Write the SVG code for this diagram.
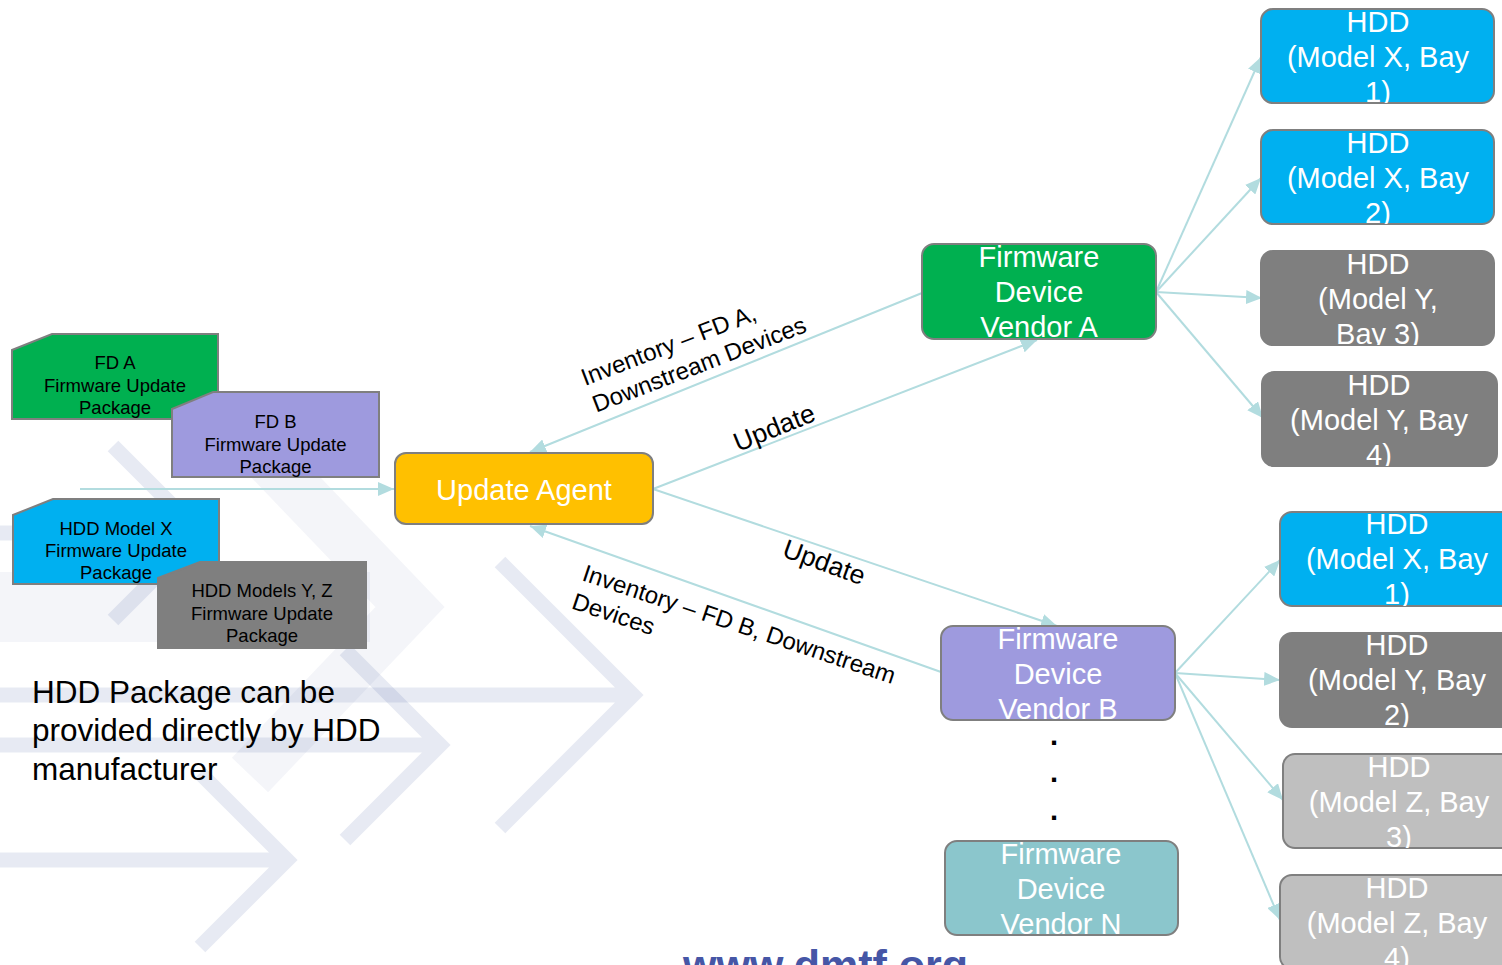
<svg xmlns="http://www.w3.org/2000/svg" width="1502" height="965" viewBox="0 0 1502 965">
<style>
text{font-family:"Liberation Sans",Arial,sans-serif}
.bg{fill:none;stroke:#3c50a0;stroke-opacity:0.12;stroke-width:15;stroke-linejoin:miter}
.bgf{fill:none;stroke:#3c50a0;stroke-opacity:0.06;stroke-linejoin:miter}
.pkg{stroke:#7f7f7f;stroke-width:2}
.pt{font-size:18.5px;fill:#000;text-anchor:middle}
.box{stroke:#7f7f7f;stroke-width:2}
.nt{font-size:29px;fill:#fff;text-anchor:middle}
.conn{fill:none;stroke:#b2dcdf;stroke-width:2;marker-end:url(#ah)}
.lbl{font-size:24px;fill:#000}
.upd{font-size:26.5px;fill:#000}
.dot{font-size:29px;font-weight:bold;fill:#000;text-anchor:middle}
</style>
<defs>
<marker id="ah" viewBox="0 0 16 14" refX="16" refY="7" markerWidth="16" markerHeight="14" orient="auto" markerUnits="userSpaceOnUse"><path d="M0,0 L16,7 L0,14 z" fill="#b2dcdf"/></marker>
<clipPath id="cA"><rect x="922" y="244" width="234" height="95" rx="12"/></clipPath>
<clipPath id="cB"><rect x="941" y="626" width="234" height="94" rx="12"/></clipPath>
<clipPath id="cN"><rect x="945" y="841" width="233" height="94" rx="12"/></clipPath>
<clipPath id="h1"><rect x="1261" y="9" width="233" height="94" rx="12"/></clipPath>
<clipPath id="h2"><rect x="1261" y="130" width="233" height="94" rx="12"/></clipPath>
<clipPath id="h3"><rect x="1261" y="251" width="233" height="94" rx="12"/></clipPath>
<clipPath id="h4"><rect x="1262" y="372" width="235" height="94" rx="12"/></clipPath>
<clipPath id="k1"><rect x="1280" y="512" width="234" height="94" rx="12"/></clipPath>
<clipPath id="k2"><rect x="1280" y="633" width="234" height="94" rx="12"/></clipPath>
<clipPath id="k3"><rect x="1283" y="754" width="234" height="94" rx="12"/></clipPath>
<clipPath id="k4"><rect x="1280" y="875" width="234" height="94" rx="12"/></clipPath>
</defs>
<rect width="1502" height="965" fill="#fff"/>
<g id="background">
<path class="bgf" stroke-width="70" d="M0,607 H370"/>
<path class="bgf" stroke-width="50" d="M250,440 L410,607 L250,775"/>
<path class="bg" d="M0,533 H200 M113,446 L200,533 L113,620"/>
<path class="bg" d="M0,695 H630 M500,562 L633,695 L500,828"/>
<path class="bg" d="M0,745 H437 M345,650 L440,745 L345,840"/>
<path class="bg" d="M0,860 H284 M200,773 L287,860 L200,947"/>
<text x="683" y="980" font-size="43" font-weight="bold" fill="#4656a6">www.dmtf.org</text>
</g>
<g id="connectors">
<path class="conn" d="M80,489 L394,489"/>
<path class="conn" d="M922,293 L530,452"/>
<path class="conn" d="M653,489 L1037,340"/>
<path class="conn" d="M653,489 L1057,626"/>
<path class="conn" d="M941,672 L530,526"/>
<path class="conn" d="M1156,292 L1261,57"/>
<path class="conn" d="M1156,292 L1261,178"/>
<path class="conn" d="M1156,292 L1262,298"/>
<path class="conn" d="M1156,292 L1263,418"/>
<path class="conn" d="M1175,673 L1280,560"/>
<path class="conn" d="M1175,673 L1280,680"/>
<path class="conn" d="M1175,673 L1283,800"/>
<path class="conn" d="M1175,673 L1280,920"/>
<text class="lbl" transform="translate(585,386) rotate(-21)"><tspan x="0" y="0">Inventory – FD A,</tspan><tspan x="1" y="29">Downstream Devices</tspan></text>
<text class="upd" transform="translate(738,452) rotate(-22)">Update</text>
<text class="upd" transform="translate(781,556) rotate(20)">Update</text>
<text class="lbl" transform="translate(581,580) rotate(18.5)"><tspan x="0" y="0">Inventory – FD B, Downstream</tspan><tspan x="-1" y="30">Devices</tspan></text>
</g>
<g id="pkg-fda">
<path class="pkg" fill="#00b050" d="M12,350 L52,334 H218 V419 H12 Z"/>
<text class="pt"><tspan x="115" y="369">FD A</tspan><tspan x="115" y="391.5">Firmware Update</tspan><tspan x="115" y="414">Package</tspan></text>
</g>
<g id="pkg-fdb">
<path class="pkg" fill="#9e9ade" d="M172,409 L213,392 H379 V477 H172 Z"/>
<text class="pt"><tspan x="275.5" y="428">FD B</tspan><tspan x="275.5" y="451">Firmware Update</tspan><tspan x="275.5" y="473">Package</tspan></text>
</g>
<g id="pkg-hddx">
<path class="pkg" fill="#00b0f0" d="M13,515 L53,499 H219 V584 H13 Z"/>
<text class="pt"><tspan x="116" y="535">HDD Model X</tspan><tspan x="116" y="557">Firmware Update</tspan><tspan x="116" y="579">Package</tspan></text>
</g>
<g id="pkg-hddyz">
<path class="pkg" fill="#7f7f7f" d="M158,578 L200,562 H366 V648 H158 Z"/>
<text class="pt"><tspan x="262" y="597">HDD Models Y, Z</tspan><tspan x="262" y="620">Firmware Update</tspan><tspan x="262" y="642">Package</tspan></text>
</g>
<g id="note">
<text font-size="31.5" fill="#000"><tspan x="32" y="703">HDD Package can be</tspan><tspan x="32" y="741">provided directly by HDD</tspan><tspan x="32" y="780">manufacturer</tspan></text>
</g>
<g id="update-agent">
<rect class="box" x="395" y="453" width="258" height="71" rx="11" fill="#ffc000"/>
<text class="nt" x="524" y="500">Update Agent</text>
</g>
<g id="vendor-a">
<rect class="box" x="922" y="244" width="234" height="95" rx="12" fill="#00b050"/>
<text class="nt" clip-path="url(#cA)"><tspan x="1039" y="267">Firmware</tspan><tspan x="1039" y="302">Device</tspan><tspan x="1039" y="337">Vendor A</tspan></text>
</g>
<g id="vendor-b">
<rect class="box" x="941" y="626" width="234" height="94" rx="12" fill="#9e9ade"/>
<text class="nt" clip-path="url(#cB)"><tspan x="1058" y="649">Firmware</tspan><tspan x="1058" y="684">Device</tspan><tspan x="1058" y="719">Vendor B</tspan></text>
</g>
<g id="dots">
<text class="dot" x="1054" y="745">.</text>
<text class="dot" x="1054" y="782">.</text>
<text class="dot" x="1054" y="820">.</text>
</g>
<g id="vendor-n">
<rect class="box" x="945" y="841" width="233" height="94" rx="12" fill="#8bc6cc"/>
<text class="nt" clip-path="url(#cN)"><tspan x="1061" y="864">Firmware</tspan><tspan x="1061" y="899">Device</tspan><tspan x="1061" y="934">Vendor N</tspan></text>
</g>
<g id="hdd-a1">
<rect class="box" x="1261" y="9" width="233" height="94" rx="12" fill="#00b0f0"/>
<text class="nt" clip-path="url(#h1)"><tspan x="1378" y="32">HDD</tspan><tspan x="1378" y="67">(Model X, Bay</tspan><tspan x="1378" y="102">1)</tspan></text>
</g>
<g id="hdd-a2">
<rect class="box" x="1261" y="130" width="233" height="94" rx="12" fill="#00b0f0"/>
<text class="nt" clip-path="url(#h2)"><tspan x="1378" y="153">HDD</tspan><tspan x="1378" y="188">(Model X, Bay</tspan><tspan x="1378" y="223">2)</tspan></text>
</g>
<g id="hdd-a3">
<rect class="box" x="1261" y="251" width="233" height="94" rx="12" fill="#7f7f7f"/>
<text class="nt" clip-path="url(#h3)"><tspan x="1378" y="274">HDD</tspan><tspan x="1378" y="309">(Model Y,</tspan><tspan x="1378" y="344">Bay 3)</tspan></text>
</g>
<g id="hdd-a4">
<rect class="box" x="1262" y="372" width="235" height="94" rx="12" fill="#7f7f7f"/>
<text class="nt" clip-path="url(#h4)"><tspan x="1379" y="395">HDD</tspan><tspan x="1379" y="430">(Model Y, Bay</tspan><tspan x="1379" y="465">4)</tspan></text>
</g>
<g id="hdd-b1">
<rect class="box" x="1280" y="512" width="234" height="94" rx="12" fill="#00b0f0"/>
<text class="nt" clip-path="url(#k1)"><tspan x="1397" y="534">HDD</tspan><tspan x="1397" y="569">(Model X, Bay</tspan><tspan x="1397" y="604">1)</tspan></text>
</g>
<g id="hdd-b2">
<rect class="box" x="1280" y="633" width="234" height="94" rx="12" fill="#7f7f7f"/>
<text class="nt" clip-path="url(#k2)"><tspan x="1397" y="655">HDD</tspan><tspan x="1397" y="690">(Model Y, Bay</tspan><tspan x="1397" y="725">2)</tspan></text>
</g>
<g id="hdd-b3">
<rect class="box" x="1283" y="754" width="234" height="94" rx="12" fill="#bfbfbf"/>
<text class="nt" clip-path="url(#k3)"><tspan x="1399" y="777">HDD</tspan><tspan x="1399" y="812">(Model Z, Bay</tspan><tspan x="1399" y="847">3)</tspan></text>
</g>
<g id="hdd-b4">
<rect class="box" x="1280" y="875" width="234" height="94" rx="12" fill="#bfbfbf"/>
<text class="nt" clip-path="url(#k4)"><tspan x="1397" y="898">HDD</tspan><tspan x="1397" y="933">(Model Z, Bay</tspan><tspan x="1397" y="968">4)</tspan></text>
</g>
</svg>
